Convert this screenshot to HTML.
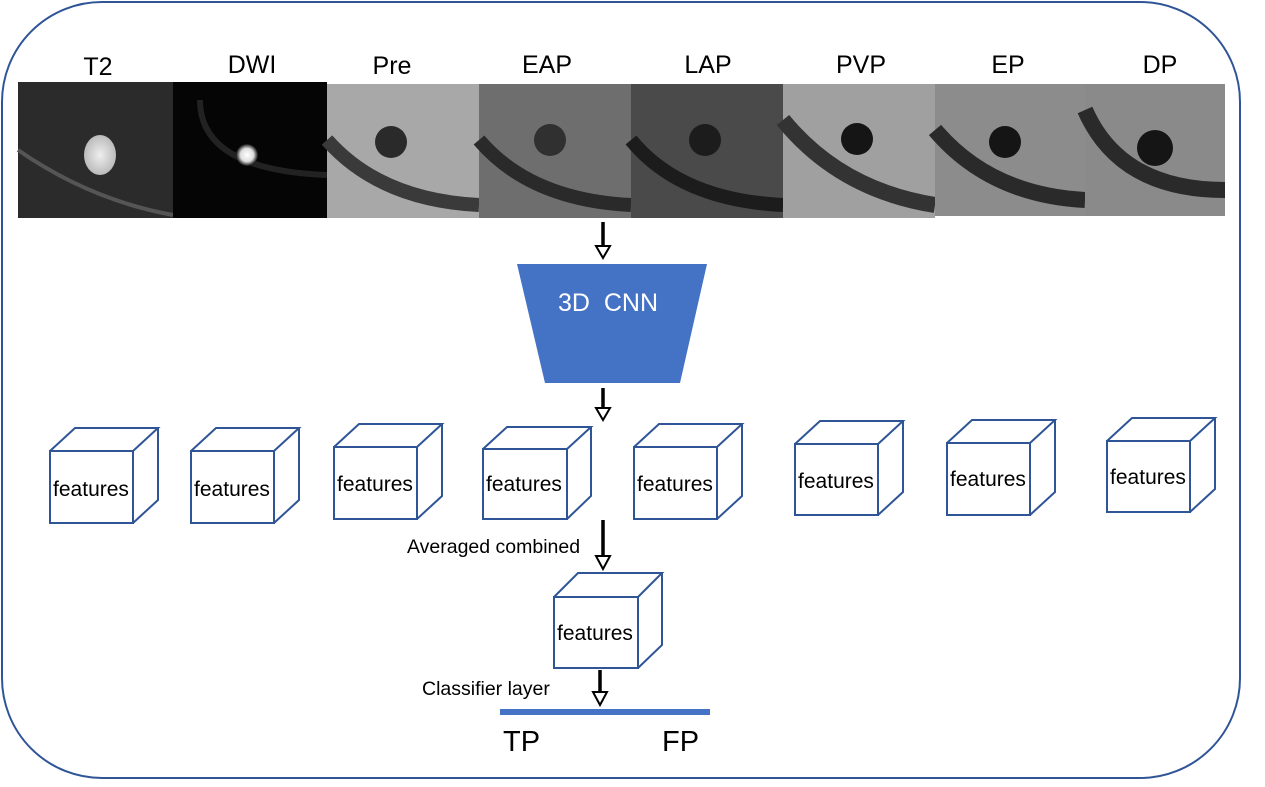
<!DOCTYPE html>
<html><head><style>
body{margin:0;background:#fff;width:1265px;height:782px;overflow:hidden;font-family:"Liberation Sans",sans-serif;}
</style></head><body>
<svg width="1265" height="782" xmlns="http://www.w3.org/2000/svg" font-family="Liberation Sans, sans-serif">
<defs>
<radialGradient id="bright"><stop offset="0" stop-color="#eee"/><stop offset="1" stop-color="#bbb"/></radialGradient>
<radialGradient id="dw"><stop offset="0" stop-color="#fff"/><stop offset="0.6" stop-color="#ddd"/><stop offset="1" stop-color="#111"/></radialGradient>
</defs>
<rect x="2" y="2" width="1238" height="776" rx="100" fill="none" stroke="#2F5597" stroke-width="2"/>
<g font-size="25" text-anchor="middle" fill="#000">
<text x="98" y="75">T2</text><text x="252" y="73">DWI</text><text x="392" y="74">Pre</text><text x="547" y="73">EAP</text><text x="708" y="73">LAP</text><text x="861" y="73">PVP</text><text x="1008" y="73">EP</text><text x="1160" y="73">DP</text>
</g>
<rect x="18" y="82" width="155" height="136" fill="#2b2b2b"/>
<ellipse cx="100" cy="155" rx="16" ry="20" fill="url(#bright)"/>
<path d="M18,150 Q90,200 173,215" stroke="#555" stroke-width="4" fill="none"/>
<rect x="173" y="82" width="154" height="136" fill="#050505"/>
<path d="M200,100 Q200,170 327,175" stroke="#222" stroke-width="6" fill="none"/>
<circle cx="247" cy="155" r="11" fill="url(#dw)"/>
<rect x="327" y="84" width="152" height="134" fill="#a8a8a8"/>
<path d="M327,140 Q380,200 479,205" stroke="#3a3a3a" stroke-width="14" fill="none"/>
<circle cx="391" cy="142" r="16" fill="#2a2a2a"/>
<rect x="479" y="84" width="152" height="134" fill="#6e6e6e"/>
<path d="M479,140 Q530,200 631,205" stroke="#2a2a2a" stroke-width="14" fill="none"/>
<circle cx="550" cy="140" r="16" fill="#303030"/>
<rect x="631" y="84" width="152" height="134" fill="#4a4a4a"/>
<path d="M631,140 Q680,200 783,205" stroke="#1c1c1c" stroke-width="14" fill="none"/>
<circle cx="705" cy="140" r="16" fill="#1c1c1c"/>
<rect x="783" y="84" width="152" height="134" fill="#a0a0a0"/>
<path d="M783,120 Q840,190 935,205" stroke="#333" stroke-width="16" fill="none"/>
<circle cx="857" cy="139" r="16" fill="#151515"/>
<rect x="935" y="84" width="150" height="132" fill="#8c8c8c"/>
<path d="M935,130 Q990,195 1085,200" stroke="#2a2a2a" stroke-width="16" fill="none"/>
<circle cx="1005" cy="142" r="16" fill="#151515"/>
<rect x="1085" y="84" width="140" height="132" fill="#8a8a8a"/>
<path d="M1085,110 Q1120,190 1225,190" stroke="#2a2a2a" stroke-width="16" fill="none"/>
<circle cx="1155" cy="148" r="18" fill="#151515"/>
<g stroke="#000" stroke-width="3.5">
<line x1="603" y1="222" x2="603" y2="247"/>
<line x1="603" y1="388" x2="603" y2="409"/>
<line x1="603" y1="520" x2="603" y2="556"/>
<line x1="600" y1="670" x2="600" y2="692"/>
</g>
<g fill="#fff" stroke="#000" stroke-width="2">
<polygon points="596,246 610,246 603,258"/>
<polygon points="596,408 610,408 603,420"/>
<polygon points="596,556 610,556 603,569"/>
<polygon points="593,692 607,692 600,705"/>
</g>
<polygon points="517,264 707,264 680,383 545,383" fill="#4472C4"/>
<text x="608" y="311" font-size="25" fill="#fff" text-anchor="middle" xml:space="preserve">3D  CNN</text>
<g fill="#fff" stroke="#2F5597" stroke-width="2">
<path d="M50,451 h83 v72 h-83z M50,451 l25,-23 h83 l-25,23 M133,523 l25,-23 v-72"/>
<path d="M191,451 h83 v72 h-83z M191,451 l25,-23 h83 l-25,23 M274,523 l25,-23 v-72"/>
<path d="M334,447 h83 v72 h-83z M334,447 l25,-23 h83 l-25,23 M417,519 l25,-23 v-72"/>
<path d="M483,449 h84 v70 h-84z M483,449 l24,-22 h84 l-24,22 M567,519 l24,-23 v-69"/>
<path d="M634,447 h83 v72 h-83z M634,447 l25,-23 h83 l-25,23 M717,519 l25,-23 v-72"/>
<path d="M795,444 h83 v71 h-83z M795,444 l25,-23 h83 l-25,23 M878,515 l25,-23 v-71"/>
<path d="M947,443 h83 v72 h-83z M947,443 l25,-23 h83 l-25,23 M1030,515 l25,-23 v-72"/>
<path d="M1107,441 h83 v71 h-83z M1107,441 l25,-23 h83 l-25,23 M1190,512 l25,-23 v-71"/>
<path d="M554,597 h84 v71 h-84z M554,597 l24,-24 h84 l-24,24 M638,668 l24,-23 v-72"/>
</g>
<g font-size="21" fill="#000" text-anchor="middle">
<text x="91" y="496">features</text><text x="232" y="496">features</text><text x="375" y="491">features</text><text x="524" y="491">features</text><text x="675" y="491">features</text><text x="836" y="488">features</text><text x="988" y="486">features</text><text x="1148" y="484">features</text><text x="595" y="640">features</text>
</g>
<text x="407" y="553" font-size="19.5">Averaged combined</text>
<text x="422" y="695" font-size="19.5">Classifier layer</text>
<rect x="500" y="709" width="210" height="6" fill="#4472C4"/>
<text x="503" y="751" font-size="29">TP</text>
<text x="662" y="751" font-size="29">FP</text>
</svg>
</body></html>
